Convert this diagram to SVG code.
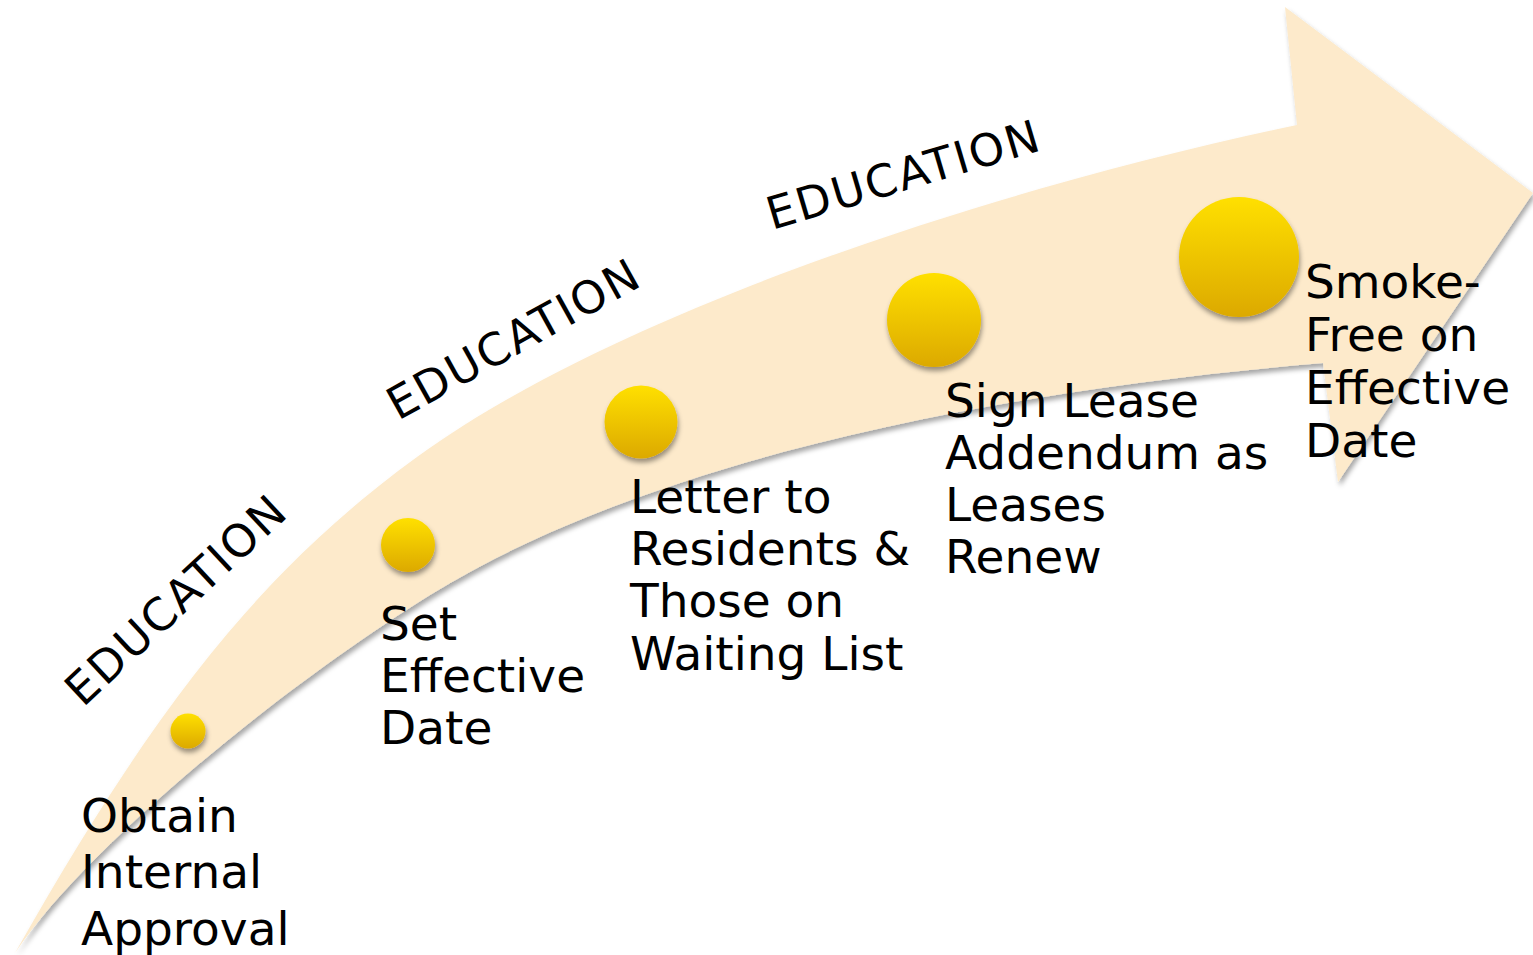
<svg xmlns="http://www.w3.org/2000/svg" width="1533" height="955" viewBox="0 0 1533 955">
<defs>
<linearGradient id="gold" x1="0" y1="0" x2="0" y2="1">
<stop offset="0" stop-color="#FFE000"/>
<stop offset="1" stop-color="#DCA900"/>
</linearGradient>
<filter id="sh" x="-10%" y="-10%" width="130%" height="130%">
<feDropShadow dx="2" dy="4" stdDeviation="2.5" flood-color="#000" flood-opacity="0.35"/>
</filter>
<filter id="dsh" x="-30%" y="-30%" width="160%" height="170%">
<feDropShadow dx="1" dy="4" stdDeviation="2.5" flood-color="#000" flood-opacity="0.4"/>
</filter>
<style>
.lbl{font-family:"DejaVu Sans",Verdana,sans-serif;font-size:47px;fill:#000}
.edu{font-family:"DejaVu Sans",Verdana,sans-serif;font-size:45px;fill:#000}
.dot{fill:url(#gold);filter:url(#dsh)}
</style>
</defs>
<g id="arrow">
<path d="M15,953 C150,715 255,575 417,457 C617,311 997,188 1297,125 L1285,7 L1533,193 L1338,482 L1323,363 C1000,390 650,459 430,595 C280,688 85,848 15,953 Z" fill="#FDEACB" filter="url(#sh)"/>
</g>
<g id="education-labels">
<text class="edu" transform="translate(83,708) rotate(-43)" textLength="282" lengthAdjust="spacing">EDUCATION</text>
<text class="edu" transform="translate(398,421) rotate(-29)" textLength="280" lengthAdjust="spacing">EDUCATION</text>
<text class="edu" transform="translate(772,230) rotate(-16.5)" textLength="282" lengthAdjust="spacing">EDUCATION</text>
</g>
<g id="step1">
<circle class="dot" cx="188" cy="731" r="17.5"/>
<text class="lbl" x="81" y="832">Obtain</text>
<text class="lbl" x="81" y="888">Internal</text>
<text class="lbl" x="81" y="945">Approval</text>
</g>
<g id="step2">
<circle class="dot" cx="408" cy="545" r="27"/>
<text class="lbl" x="380" y="640">Set</text>
<text class="lbl" x="380" y="692">Effective</text>
<text class="lbl" x="380" y="744">Date</text>
</g>
<g id="step3">
<circle class="dot" cx="641" cy="422" r="36.5"/>
<text class="lbl" x="630" y="513">Letter to</text>
<text class="lbl" x="630" y="565">Residents &amp;</text>
<text class="lbl" x="630" y="617">Those on</text>
<text class="lbl" x="630" y="670">Waiting List</text>
</g>
<g id="step4">
<circle class="dot" cx="934" cy="320" r="47"/>
<text class="lbl" x="945" y="417">Sign Lease</text>
<text class="lbl" x="945" y="469">Addendum as</text>
<text class="lbl" x="945" y="521">Leases</text>
<text class="lbl" x="945" y="573">Renew</text>
</g>
<g id="step5">
<circle class="dot" cx="1239" cy="257" r="60"/>
<text class="lbl" x="1305" y="298">Smoke-</text>
<text class="lbl" x="1305" y="351">Free on</text>
<text class="lbl" x="1305" y="404">Effective</text>
<text class="lbl" x="1305" y="457">Date</text>
</g>
<g id="connectors"/>
</svg>
